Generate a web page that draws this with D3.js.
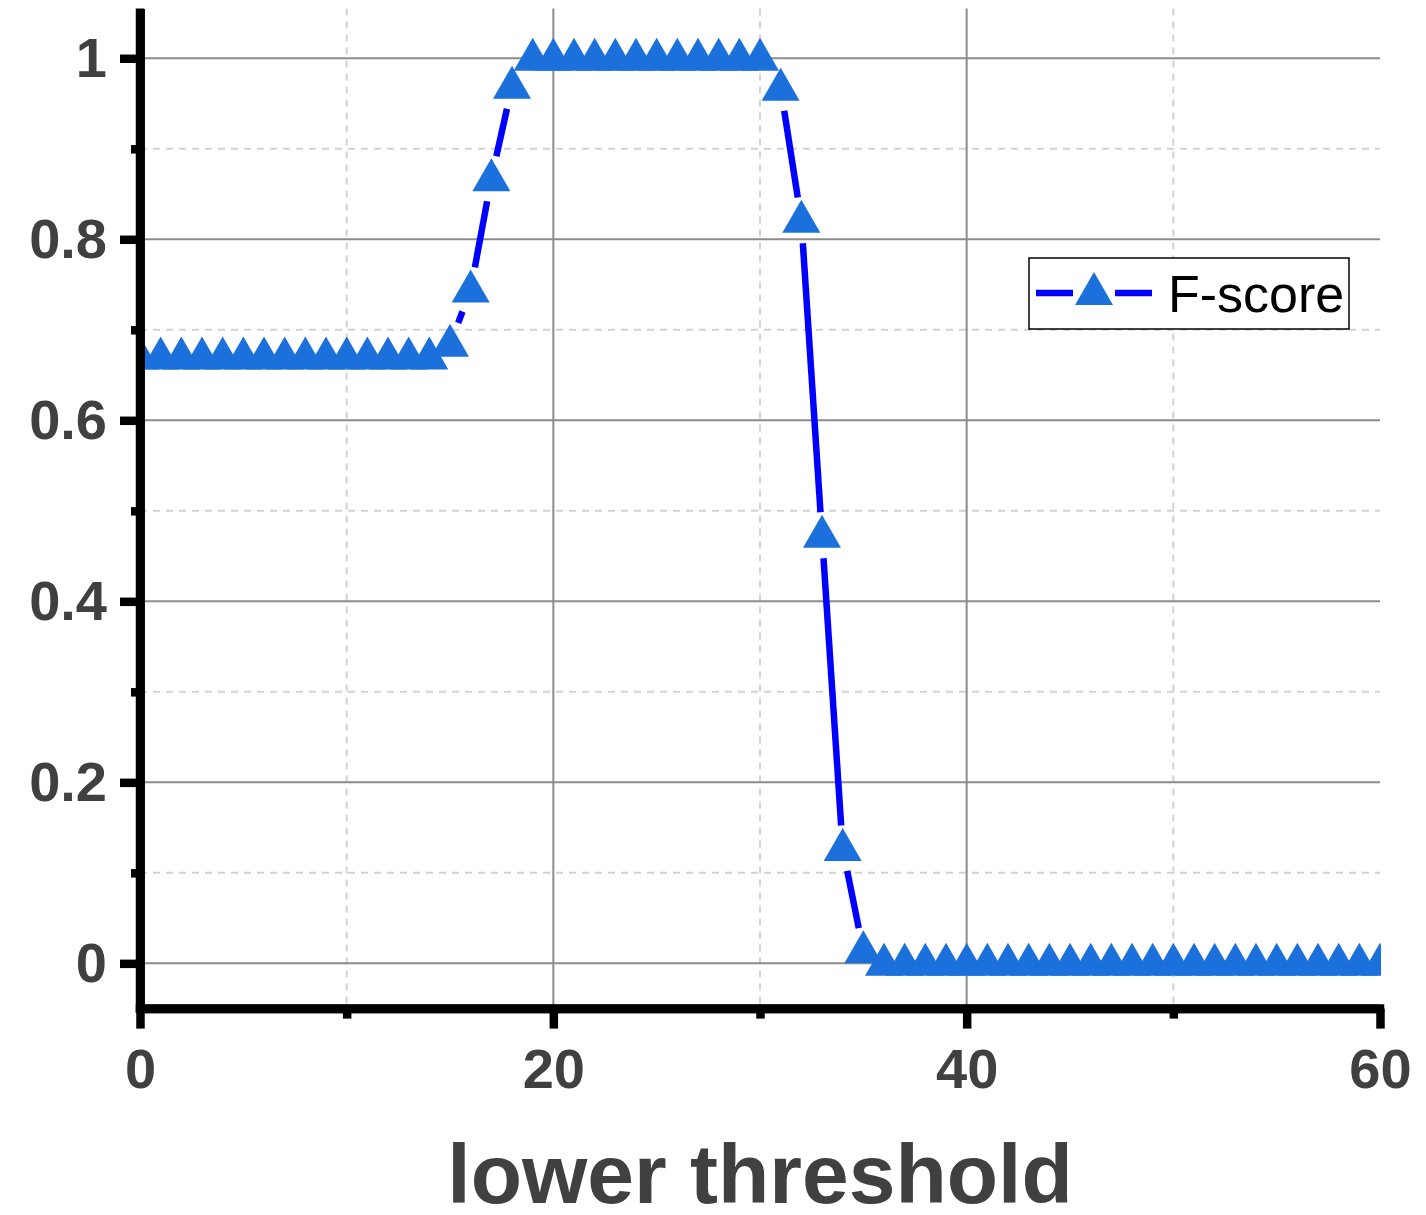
<!DOCTYPE html>
<html>
<head>
<meta charset="utf-8">
<script src="https://cdn.jsdelivr.net/npm/d3@7"></script>
<style>
  html, body { margin: 0; padding: 0; background: #fff; }
  svg { display: block; font-family: "Liberation Sans", Arial, sans-serif; }
</style>
</head>
<body>
<svg id="chart" width="1426" height="1215"></svg>
<script>
// Threshold values (x) and F-score at each threshold (y)
const thresholds = [
  0, 1, 2, 3, 4, 5, 6, 7, 8, 9, 10, 11, 12, 13, 14, 15, 16, 17, 18, 19,
  20, 21, 22, 23, 24, 25, 26, 27, 28, 29, 30, 31, 32, 33, 34, 35, 36, 37, 38, 39,
  40, 41, 42, 43, 44, 45, 46, 47, 48, 49, 50, 51, 52, 53, 54, 55, 56, 57, 58, 59, 60
];
const fScore = [
  0.67, 0.67, 0.67, 0.67, 0.67, 0.67, 0.67, 0.67, 0.67, 0.67, 0.67, 0.67, 0.67, 0.67, 0.67,
  0.684, 0.744, 0.867, 0.969,
  1, 1, 1, 1, 1, 1, 1, 1, 1, 1, 1, 1,
  0.967, 0.821, 0.473, 0.127, 0.014,
  0, 0, 0, 0, 0, 0, 0, 0, 0, 0, 0, 0, 0, 0, 0, 0, 0, 0, 0, 0, 0, 0, 0, 0, 0
];
const xMajorTicks = [0, 20, 40, 60];
const xMinorTicks = [10, 30, 50];
const yMajorTicks = [0, 0.2, 0.4, 0.6, 0.8, 1];
const yMinorTicks = [0.1, 0.3, 0.5, 0.7, 0.9];
const yTickLabels = ["0", "0.2", "0.4", "0.6", "0.8", "1"];
const seriesName = "F-score";
const xTitle = "lower threshold";

const svg = d3.select("#chart");
const plotLeft = 140, plotRight = 1380, plotTop = 8.5, plotBottom = 1008.6;

const x = d3.scaleLinear().domain([0, 60]).range([plotLeft, plotRight]);
const y = d3.scaleLinear().domain([-0.05, 1.055]).range([plotBottom, plotTop]);

const textColor = "#404040";
const axisW = 8.5;

// grid: dashed minor lines, solid major lines
const grid = svg.append("g");
grid.selectAll(".ymin").data(yMinorTicks).join("line")
  .attr("x1", plotLeft).attr("x2", plotRight)
  .attr("y1", d => y(d)).attr("y2", d => y(d))
  .attr("stroke", "#d2d2d2").attr("stroke-width", 2).attr("stroke-dasharray", "7,6");
grid.selectAll(".xmin").data(xMinorTicks).join("line")
  .attr("y1", plotTop).attr("y2", plotBottom)
  .attr("x1", d => x(d)).attr("x2", d => x(d))
  .attr("stroke", "#d2d2d2").attr("stroke-width", 2).attr("stroke-dasharray", "7,6");
grid.selectAll(".ymaj").data(yMajorTicks).join("line")
  .attr("x1", plotLeft).attr("x2", plotRight)
  .attr("y1", d => y(d)).attr("y2", d => y(d))
  .attr("stroke", "#8c8c8c").attr("stroke-width", 2);
grid.selectAll(".xmaj").data(xMajorTicks.filter(d => d > 0 && d < 60)).join("line")
  .attr("y1", plotTop).attr("y2", plotBottom)
  .attr("x1", d => x(d)).attr("x2", d => x(d))
  .attr("stroke", "#8c8c8c").attr("stroke-width", 2);

// series line, broken around each symbol
const gap = 23;
const pts = thresholds.map((t, i) => [x(t), y(fScore[i])]);
const segs = [];
for (let i = 0; i < pts.length - 1; i++) {
  const [x0, y0] = pts[i], [x1, y1] = pts[i + 1];
  const len = Math.hypot(x1 - x0, y1 - y0);
  if (len <= 2 * gap) continue;
  const ux = (x1 - x0) / len, uy = (y1 - y0) / len;
  segs.push([x0 + ux * gap, y0 + uy * gap, x1 - ux * gap, y1 - uy * gap]);
}
svg.append("g").selectAll("line").data(segs).join("line")
  .attr("x1", d => d[0]).attr("y1", d => d[1])
  .attr("x2", d => d[2]).attr("y2", d => d[3])
  .attr("stroke", "#0000ff").attr("stroke-width", 6.5);

// triangle symbols, clipped to the plot area
svg.append("clipPath").attr("id", "plotClip")
  .append("rect").attr("x", plotLeft).attr("y", 0)
  .attr("width", plotRight - plotLeft + 1).attr("height", plotBottom);
const tri = "M0,-20.5L19,12.5L-19,12.5Z";
const markerFill = "#1b70dc";
svg.append("g").attr("clip-path", "url(#plotClip)")
  .selectAll("path").data(pts).join("path")
  .attr("d", tri)
  .attr("transform", d => `translate(${d[0]},${d[1]})`)
  .attr("fill", markerFill);

// axes
function styleAxis(g) {
  g.select(".domain").attr("stroke", "#000").attr("stroke-width", axisW);
  g.selectAll(".tick line").attr("stroke", "#000").attr("stroke-width", axisW);
  g.selectAll(".tick text")
    .attr("fill", textColor).attr("font-size", 56).attr("font-weight", "bold")
    .attr("font-family", "'Liberation Sans', Arial, sans-serif");
}

const yAxisMinor = d3.axisLeft(y).tickValues(yMinorTicks).tickSize(9).tickSizeOuter(0).tickFormat("");
svg.append("g").attr("transform", `translate(${plotLeft},0)`).call(yAxisMinor).call(styleAxis);
const xAxisMinor = d3.axisBottom(x).tickValues(xMinorTicks).tickSize(10).tickSizeOuter(0).tickFormat("");
svg.append("g").attr("transform", `translate(0,${plotBottom})`).call(xAxisMinor).call(styleAxis);

const yAxis = d3.axisLeft(y).tickValues(yMajorTicks).tickSize(20).tickSizeOuter(0)
  .tickPadding(13).tickFormat((d, i) => yTickLabels[i]);
const gy = svg.append("g").attr("transform", `translate(${plotLeft},0)`).call(yAxis).call(styleAxis);
gy.selectAll(".tick text").attr("dy", "0.33em");

const xAxis = d3.axisBottom(x).tickValues(xMajorTicks).tickSize(20).tickSizeOuter(0)
  .tickPadding(20).tickFormat(d3.format("d"));
svg.append("g").attr("transform", `translate(0,${plotBottom})`).call(xAxis).call(styleAxis);

// square off the corner where the two axes meet
svg.append("line")
  .attr("x1", plotLeft).attr("x2", plotLeft).attr("y1", plotTop).attr("y2", plotBottom + axisW / 2)
  .attr("stroke", "#000").attr("stroke-width", axisW);
svg.append("line")
  .attr("x1", plotLeft - axisW / 2).attr("x2", plotRight + axisW / 2).attr("y1", plotBottom).attr("y2", plotBottom)
  .attr("stroke", "#000").attr("stroke-width", axisW);

// axis title
svg.append("text")
  .attr("x", (plotLeft + plotRight) / 2).attr("y", 1203)
  .attr("text-anchor", "middle")
  .attr("fill", textColor).attr("font-size", 84).attr("font-weight", "bold")
  .text(xTitle);

// legend
const lg = svg.append("g");
lg.append("rect").attr("x", 1029).attr("y", 258).attr("width", 320).attr("height", 71)
  .attr("fill", "#fff").attr("stroke", "#000").attr("stroke-width", 1.5);
lg.append("line").attr("x1", 1036).attr("x2", 1073).attr("y1", 293).attr("y2", 293)
  .attr("stroke", "#0000ff").attr("stroke-width", 6.5);
lg.append("line").attr("x1", 1115).attr("x2", 1152).attr("y1", 293).attr("y2", 293)
  .attr("stroke", "#0000ff").attr("stroke-width", 6.5);
lg.append("path").attr("d", tri).attr("transform", "translate(1094,292.5)").attr("fill", markerFill);
lg.append("text").attr("x", 1168).attr("y", 311.5)
  .attr("fill", "#000").attr("font-size", 52)
  .text(seriesName);
</script>
</body>
</html>
